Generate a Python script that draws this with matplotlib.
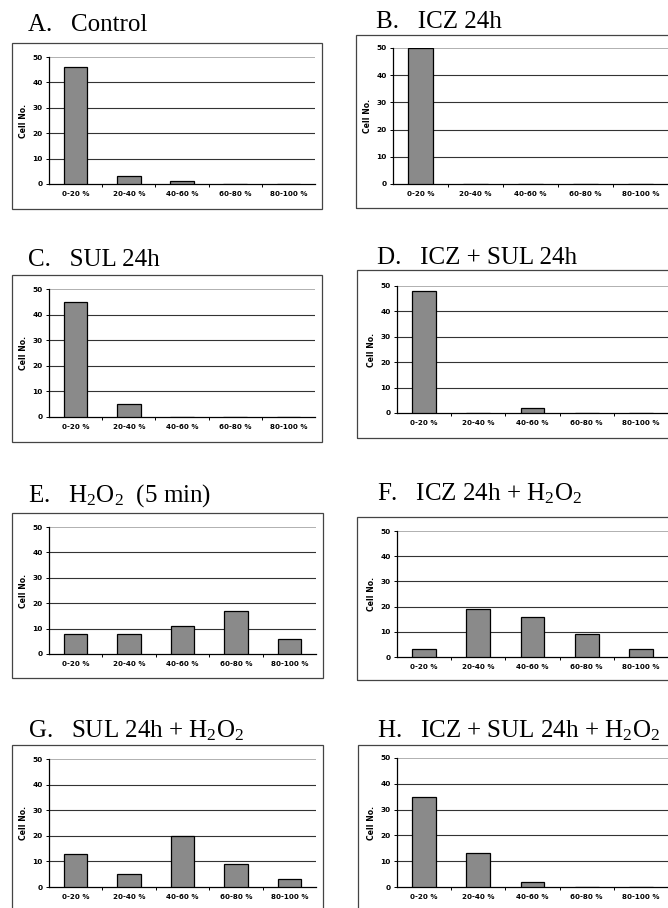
import matplotlib
matplotlib.use("Agg")
import matplotlib.pyplot as plt
from matplotlib.patches import Rectangle
import numpy as np

# ---- data ----
categories = ["0-20 %", "20-40 %", "40-60 %", "60-80 %", "80-100 %"]
yticks = [0, 10, 20, 30, 40, 50]
titles = [
    "A.   Control",
    "B.   ICZ 24h",
    "C.   SUL 24h",
    "D.   ICZ + SUL 24h",
    "E.   H$_2$O$_2$  (5 min)",
    "F.   ICZ 24h + H$_2$O$_2$",
    "G.   SUL 24h + H$_2$O$_2$",
    "H.   ICZ + SUL 24h + H$_2$O$_2$",
]
vals_A = [46, 3, 1, 0, 0]
vals_B = [50, 0, 0, 0, 0]
vals_C = [45, 5, 0, 0, 0]
vals_D = [48, 0, 2, 0, 0]
vals_E = [8, 8, 11, 17, 6]
vals_F = [3, 19, 16, 9, 3]
vals_G = [13, 5, 20, 9, 3]
vals_H = [35, 13, 2, 0, 0]
all_vals = [vals_A, vals_B, vals_C, vals_D, vals_E, vals_F, vals_G, vals_H]
ylabel = "Cell No."

# ---- layout (pixels) ----
W, H = 668, 908
axes_px = [
    (49, 57, 315, 184), (393, 48, 668, 184),
    (49, 289, 315, 417), (397, 286, 668, 413),
    (49, 527, 316, 654), (397, 531, 668, 657),
    (49, 759, 316, 887), (397, 758, 668, 887),
]
box_px = [
    (12, 43, 322, 209), (356, 35, 672, 208),
    (12, 275, 322, 442), (357, 270, 672, 438),
    (12, 513, 323, 678), (357, 517, 672, 680),
    (12, 745, 323, 914), (358, 745, 672, 914),
]
title_px = [
    (28, 31), (376, 28), (28, 266), (377, 264),
    (28, 502), (377, 500), (28, 737), (377, 737),
]

plt.rcParams["mathtext.default"] = "regular"
fig = plt.figure(figsize=(W / 100, H / 100), dpi=100)
fig.patch.set_facecolor("white")

def fx(x):
    return x / W

def fy(y):
    return 1 - y / H

for i in range(8):
    x0, y0, x1, y1 = axes_px[i]
    ax = fig.add_axes([fx(x0), fy(y1), (x1 - x0) / W, (y1 - y0) / H])
    x = np.arange(len(categories))
    ax.bar(x, all_vals[i], width=0.44, color="#8a8a8a", edgecolor="black",
           linewidth=0.9, zorder=3)
    ax.set_xlim(-0.5, len(categories) - 0.5)
    ax.set_ylim(0, 50)
    ax.set_yticks(yticks)
    ax.set_yticklabels([str(t) for t in yticks], fontsize=5.3,
                       fontweight="bold", family="DejaVu Sans")
    ax.set_xticks(x)
    ax.set_xticklabels(categories, fontsize=5.1, fontweight="bold",
                       family="DejaVu Sans")
    ax.set_xticks(np.arange(0.5, len(categories) - 0.5, 1), minor=True)
    ax.tick_params(axis="x", which="major", length=0, pad=5)
    ax.tick_params(axis="x", which="minor", length=2.5, width=0.7)
    ax.tick_params(axis="y", length=2.5, width=0.7, pad=2)
    for t in [10, 20, 30, 40]:
        ax.axhline(t, color="#333333", linewidth=0.8, zorder=1)
    ax.axhline(50, color="#b0b0b0", linewidth=0.7, zorder=1)
    for s in ["top", "right"]:
        ax.spines[s].set_visible(False)
    ax.spines["left"].set_linewidth(0.9)
    ax.spines["bottom"].set_linewidth(0.9)
    ax.patch.set_alpha(0)

    # y label
    fig.text(fx(x0 - 25), fy((y0 + y1) / 2), ylabel, rotation=90,
             ha="center", va="center", fontsize=5.6, fontweight="bold",
             family="DejaVu Sans")

    # outer chart frame
    bx0, by0, bx1, by1 = box_px[i]
    fig.patches.append(Rectangle((fx(bx0), fy(by1)), (bx1 - bx0) / W,
                                 (by1 - by0) / H, transform=fig.transFigure,
                                 fill=False, edgecolor="#444444",
                                 linewidth=0.9, zorder=0))
    tx, ty = title_px[i]
    fig.text(fx(tx), fy(ty), titles[i], ha="left", va="baseline",
             fontsize=18, family="Liberation Serif")

fig.savefig("out.png", dpi=100, facecolor="white")
